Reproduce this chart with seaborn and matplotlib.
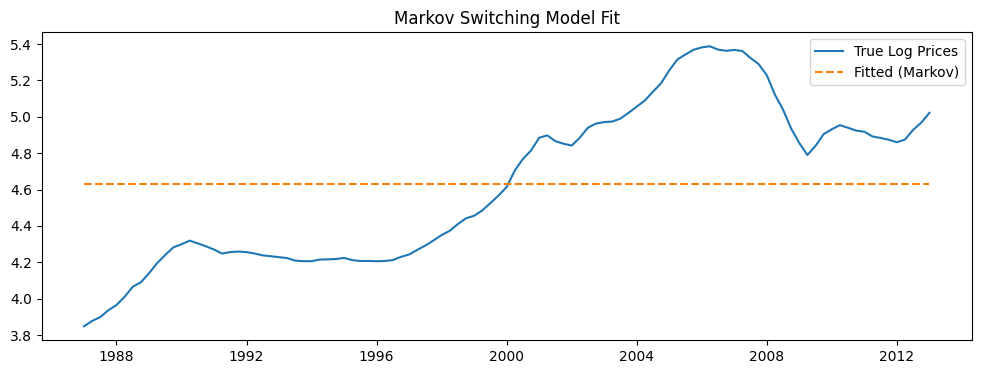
import pandas as pd
import matplotlib
matplotlib.use("Agg")
import matplotlib.pyplot as plt
import seaborn as sns

# quarterly log prices, 1987Q1 .. 2013Q1
log_prices = [
    3.848, 3.877, 3.898, 3.936,   # 1987
    3.965, 4.010, 4.065, 4.090,   # 1988
    4.140, 4.195, 4.240, 4.282,   # 1989
    4.299, 4.319, 4.304, 4.288,   # 1990
    4.270, 4.248, 4.256, 4.259,   # 1991
    4.256, 4.248, 4.238, 4.233,   # 1992
    4.228, 4.223, 4.209, 4.206,   # 1993
    4.206, 4.215, 4.216, 4.218,   # 1994
    4.224, 4.212, 4.207, 4.207,   # 1995
    4.206, 4.207, 4.212, 4.230,   # 1996
    4.243, 4.268, 4.292, 4.320,   # 1997
    4.350, 4.373, 4.410, 4.442,   # 1998
    4.456, 4.485, 4.525, 4.567,   # 1999
    4.614, 4.705, 4.768, 4.815,   # 2000
    4.885, 4.898, 4.866, 4.852,   # 2001
    4.842, 4.885, 4.940, 4.963,   # 2002
    4.971, 4.974, 4.990, 5.022,   # 2003
    5.056, 5.090, 5.138, 5.185,   # 2004
    5.256, 5.315, 5.343, 5.369,   # 2005
    5.382, 5.388, 5.370, 5.363,   # 2006
    5.368, 5.362, 5.324, 5.290,   # 2007
    5.229, 5.122, 5.040, 4.935,   # 2008
    4.855, 4.790, 4.840, 4.905,   # 2009
    4.932, 4.954, 4.940, 4.924,   # 2010
    4.918, 4.892, 4.884, 4.874,   # 2011
    4.860, 4.875, 4.928, 4.968,   # 2012
    5.022,                        # 2013
]
fitted_level = 4.633

dates = pd.date_range("1987-01-01", periods=len(log_prices), freq="QS")
df = pd.DataFrame({"date": dates,
                   "true": log_prices,
                   "fitted": [fitted_level] * len(log_prices)})

fig, ax = plt.subplots(figsize=(12, 4))
sns.lineplot(data=df, x="date", y="true", ax=ax, label="True Log Prices",
             color="C0", linewidth=1.5)
sns.lineplot(data=df, x="date", y="fitted", ax=ax, label="Fitted (Markov)",
             color="C1", linestyle="--", linewidth=1.5)
ax.set_title("Markov Switching Model Fit")
ax.set_xlabel("")
ax.set_ylabel("")
ax.legend(loc="upper right")

plt.savefig("out.png", dpi=100, bbox_inches="tight")
